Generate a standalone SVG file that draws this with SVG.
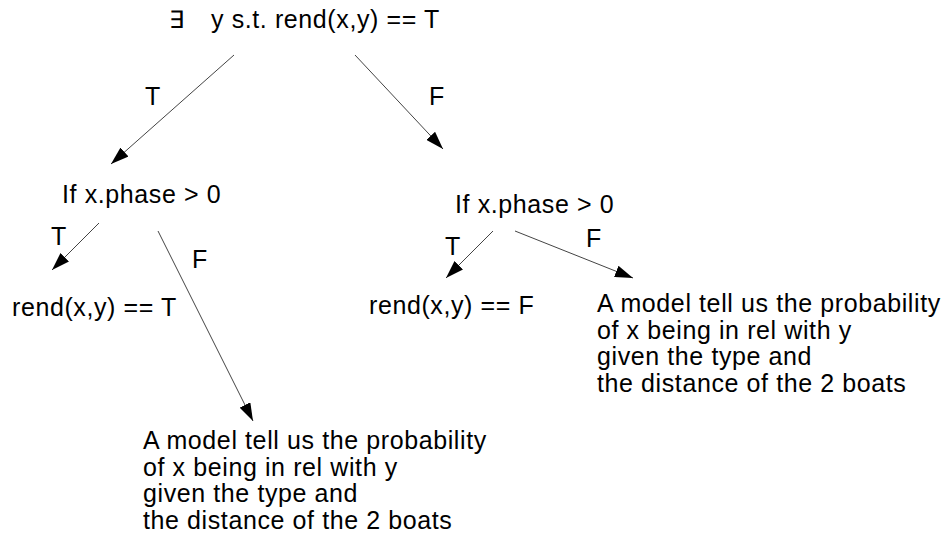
<svg xmlns="http://www.w3.org/2000/svg" width="944" height="546" viewBox="0 0 944 546">
<style>
text{font-family:"Liberation Sans",Arial,sans-serif;font-size:25px;letter-spacing:0.6px;fill:#000}
.c line{stroke:#444;stroke-width:1;fill:none}
</style>
<defs>
<marker id="ah" markerUnits="userSpaceOnUse" markerWidth="18" markerHeight="12" refX="18" refY="6" orient="auto" viewBox="0 0 18 12">
<path d="M0,0 L18,6 L0,12 Z" fill="#000"/>
</marker>
</defs>
<rect width="944" height="546" fill="#fff"/>
<g id="root">
<text x="169" y="28" style="font-size:24px;letter-spacing:0">∃</text>
<text x="211" y="28">y s.t. rend(x,y) == T</text>
</g>
<g id="left-cond"><text x="62" y="203">If x.phase &gt; 0</text></g>
<g id="right-cond"><text x="455" y="213">If x.phase &gt; 0</text></g>
<g id="left-T"><text x="12" y="316">rend(x,y) == T</text></g>
<g id="right-T"><text x="369" y="314">rend(x,y) == F</text></g>
<g id="left-model">
<text x="143" y="449">A model tell us the probability</text>
<text x="143" y="475.5">of x being in rel with y</text>
<text x="143" y="502">given the type and</text>
<text x="143" y="528.5">the distance of the 2 boats</text>
</g>
<g id="right-model">
<text x="597" y="312">A model tell us the probability</text>
<text x="597" y="338.5">of x being in rel with y</text>
<text x="597" y="365">given the type and</text>
<text x="597" y="391.5">the distance of the 2 boats</text>
</g>
<g class="c" id="connectors">
<line x1="234" y1="55" x2="111" y2="164" marker-end="url(#ah)"/>
<line x1="355" y1="55" x2="443" y2="149" marker-end="url(#ah)"/>
<line x1="99" y1="223" x2="52" y2="270" marker-end="url(#ah)"/>
<line x1="158" y1="231" x2="253" y2="421" marker-end="url(#ah)"/>
<line x1="493" y1="231" x2="446" y2="278" marker-end="url(#ah)"/>
<line x1="515" y1="231" x2="633" y2="278" marker-end="url(#ah)"/>
<text x="145" y="105">T</text>
<text x="429" y="105">F</text>
<text x="51" y="245">T</text>
<text x="192" y="268">F</text>
<text x="445" y="255">T</text>
<text x="586" y="247">F</text>
</g>
</svg>
